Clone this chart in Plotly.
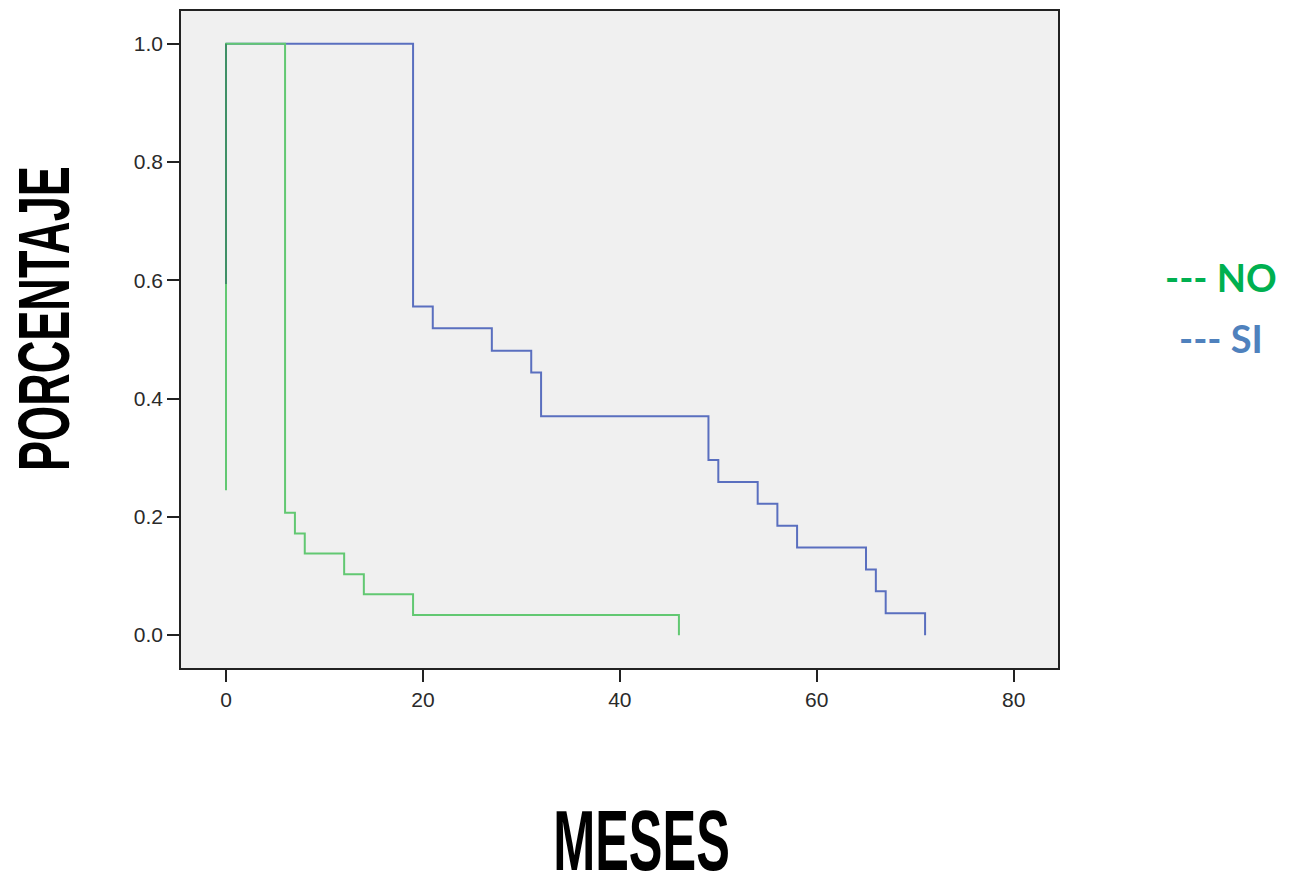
import plotly.graph_objects as go

# Data (Kaplan-Meier style step curves)
no_months = [0, 0, 6, 7, 8, 12, 14, 19, 46, 46]
no_surv = [0.245, 1.0, 0.207, 0.172, 0.138, 0.103, 0.069, 0.034, 0.034, 0.0]

no_overlap_months = [0, 0]
no_overlap_surv = [1.0, 0.594]

si_months = [0, 19, 21, 27, 31, 32, 49, 50, 54, 56, 58, 65, 66, 67, 71, 71]
si_surv = [1.0, 0.556, 0.519, 0.481, 0.444, 0.370, 0.296, 0.259, 0.222,
           0.185, 0.148, 0.111, 0.074, 0.037, 0.037, 0.0]

x_ticks = [0, 20, 40, 60, 80]
y_ticks = [0.0, 0.2, 0.4, 0.6, 0.8, 1.0]

GREEN = "#62c872"
GREEN_DARK = "#3f8f66"
BLUE = "#5a6fbf"

fig = go.Figure()
fig.add_trace(go.Scatter(x=si_months, y=si_surv, mode="lines",
                         line=dict(color=BLUE, width=2, shape="hv"),
                         showlegend=False, hoverinfo="skip"))
fig.add_trace(go.Scatter(x=no_months, y=no_surv, mode="lines",
                         line=dict(color=GREEN, width=2, shape="hv"),
                         showlegend=False, hoverinfo="skip"))
fig.add_trace(go.Scatter(x=no_overlap_months, y=no_overlap_surv, mode="lines",
                         line=dict(color=GREEN_DARK, width=2),
                         showlegend=False, hoverinfo="skip"))

OFF = 8  # page body margin
W, H = 1295 - OFF, 880 - OFF
L, R, T, B = 181 - OFF, 1058 - OFF, 9 - OFF, 668 - OFF
pw, ph = R - L, B - T


def px(xp):
    return (xp - OFF - L) / pw


def py(yp):
    return (B - (yp - OFF)) / ph


title_font = dict(family="Liberation Sans, Arial", size=46, color="black")

annotations = [
    dict(text="<b>PORCENTAJE</b>", x=px(44), y=py(318), xref="paper", yref="paper",
         textangle=-90, showarrow=False, font=title_font,
         xanchor="center", yanchor="middle"),
    dict(text="<b>MESES</b>", x=px(641), y=py(842), xref="paper", yref="paper",
         showarrow=False, font=dict(title_font, size=50),
         xanchor="center", yanchor="middle"),
    dict(text="<b>--- NO</b>", x=px(1221), y=py(276), xref="paper", yref="paper",
         showarrow=False, font=dict(family="Lato, Open Sans, sans-serif", size=38, color="#00b050"),
         xanchor="center", yanchor="middle"),
    dict(text="<b>--- SI</b>", x=px(1221), y=py(337), xref="paper", yref="paper",
         showarrow=False, font=dict(family="Lato, Open Sans, sans-serif", size=38, color="#4f81bd"),
         xanchor="center", yanchor="middle"),
]

fig.update_layout(
    width=W, height=H,
    margin=dict(l=L, r=W - R, t=T, b=H - B, pad=0),
    paper_bgcolor="white",
    plot_bgcolor="#f0f0f0",
    annotations=annotations,
    showlegend=False,
)
tick_font = dict(family="Liberation Sans, Arial", size=21, color="#2a2a2a")
fig.update_xaxes(range=[-4.57, 84.5], tickvals=x_ticks, ticks="outside", ticklen=12,
                 tickwidth=1.5, tickcolor="#222222", showgrid=False, zeroline=False,
                 showline=True, linecolor="#222222", linewidth=1.5, mirror=True,
                 tickfont=tick_font)
fig.update_yaxes(range=[-0.0556, 1.0556], tickvals=y_ticks, tickformat=".1f",
                 ticks="outside", ticklen=12, tickwidth=1.5, tickcolor="#222222",
                 showgrid=False, zeroline=False, showline=True, linecolor="#222222",
                 linewidth=1.5, mirror=True, tickfont=tick_font)

# Stretch the heavy axis titles vertically (the reference uses a tall, narrow display face)
post_script = """
var gd = document.getElementById('{plot_id}');
function stretch(){
  gd.querySelectorAll('.annotation-text').forEach(function(t){
    var s = t.textContent.trim();
    var k = null;
    if (s === 'PORCENTAJE') k = [0.98, 1.58];
    if (s === 'MESES') k = [1.01, 1.72];
    if (k) {
      t.style.transformBox = 'fill-box';
      t.style.transformOrigin = 'center';
      t.style.transform = 'scale(' + k[0] + ',' + k[1] + ')';
    }
  });
}
stretch();
gd.on('plotly_afterplot', stretch);
"""

fig.write_html("out.html", post_script=post_script)
